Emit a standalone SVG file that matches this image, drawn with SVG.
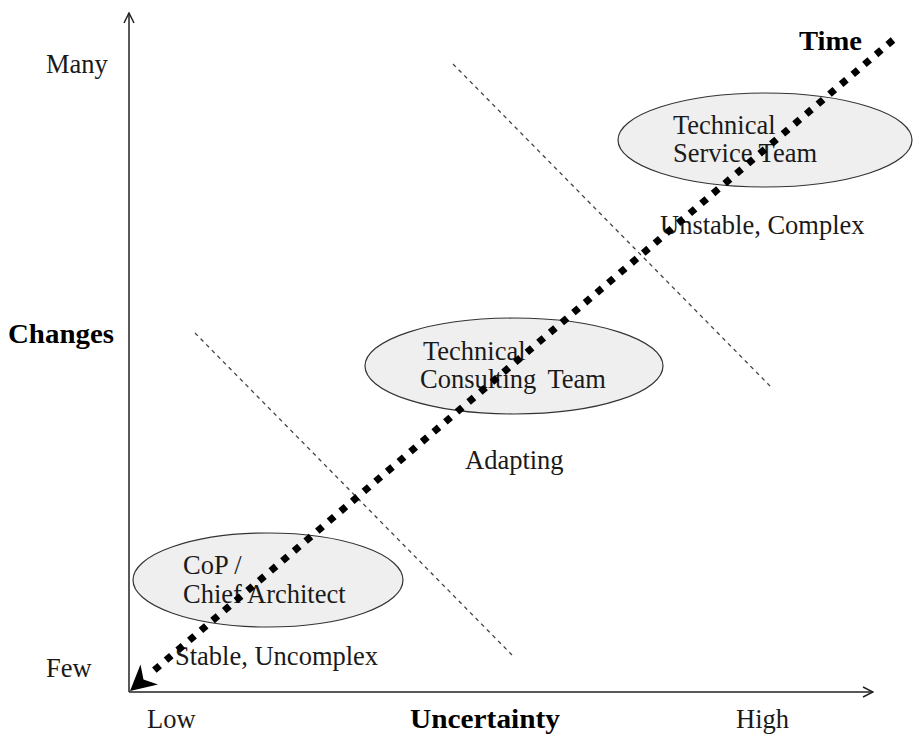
<svg xmlns="http://www.w3.org/2000/svg" width="916" height="736" viewBox="0 0 916 736">
  <defs>
    <style>
      .lbl { font-family: "Liberation Serif", "Times New Roman", serif; font-size: 26.5px; fill: #1a1a1a; }
      .bold { font-weight: bold; fill: #000; font-size: 27px; }
      .axis { stroke: #222; stroke-width: 1.5; fill: none; }
      .phase { fill: #efefef; stroke: #333; stroke-width: 1.2; }
      .divider { stroke: #444; stroke-width: 1.3; stroke-dasharray: 4 4; fill: none; }
      .time { stroke: #000; stroke-width: 7; stroke-dasharray: 7 8.3; fill: none; }
    </style>
    <marker id="openArrow" viewBox="0 0 12 12" refX="11" refY="6" markerWidth="12" markerHeight="12" markerUnits="userSpaceOnUse" orient="auto">
      <path d="M1,1 L11,6 L1,11" fill="none" stroke="#222" stroke-width="1.5"/>
    </marker>
  </defs>
  <rect width="916" height="736" fill="#fff"/>

  <!-- axes -->
  <g id="axes">
    <line class="axis" x1="129" y1="692" x2="129" y2="13" marker-end="url(#openArrow)"/>
    <line class="axis" x1="129" y1="692" x2="873" y2="692" marker-end="url(#openArrow)"/>
    <text class="lbl" x="46" y="73">Many</text>
    <text class="lbl" x="46" y="677">Few</text>
    <text class="lbl bold" x="8" y="343" textLength="106" lengthAdjust="spacingAndGlyphs">Changes</text>
    <text class="lbl" x="147" y="728">Low</text>
    <text class="lbl bold" x="410" y="728" textLength="150" lengthAdjust="spacingAndGlyphs">Uncertainty</text>
    <text class="lbl" x="736" y="728">High</text>
  </g>

  <!-- phase dividers -->
  <g id="dividers">
    <line class="divider" x1="195" y1="333" x2="512" y2="655"/>
    <line class="divider" x1="453" y1="64" x2="771" y2="387"/>
  </g>

  <g id="cop">
    <ellipse class="phase" cx="268" cy="580" rx="135" ry="47"/>
    <text class="lbl" x="183" y="574">CoP /</text>
    <text class="lbl" x="183" y="603">Chief Architect</text>
    <text class="lbl" x="175" y="665">Stable, Uncomplex</text>
  </g>

  <g id="consulting">
    <ellipse class="phase" cx="514" cy="366" rx="149" ry="48"/>
    <text class="lbl" x="423" y="360">Technical</text>
    <text class="lbl" x="420" y="388" word-spacing="5">Consulting Team</text>
    <text class="lbl" x="465" y="469">Adapting</text>
  </g>

  <g id="service">
    <ellipse class="phase" cx="765" cy="140" rx="147" ry="47"/>
    <text class="lbl" x="673" y="134">Technical</text>
    <text class="lbl" x="673" y="162">Service Team</text>
    <text class="lbl" x="660" y="234">Unstable, Complex</text>
  </g>

  <!-- time arrow -->
  <g id="connectors">
    <line class="time" x1="893" y1="40" x2="151" y2="673"/>
    <polygon points="130,691 140.5,664.5 143.5,679.5 158,684.5" fill="#000"/>
    <text class="lbl bold" x="799" y="50" textLength="63" lengthAdjust="spacingAndGlyphs">Time</text>
  </g>
</svg>
